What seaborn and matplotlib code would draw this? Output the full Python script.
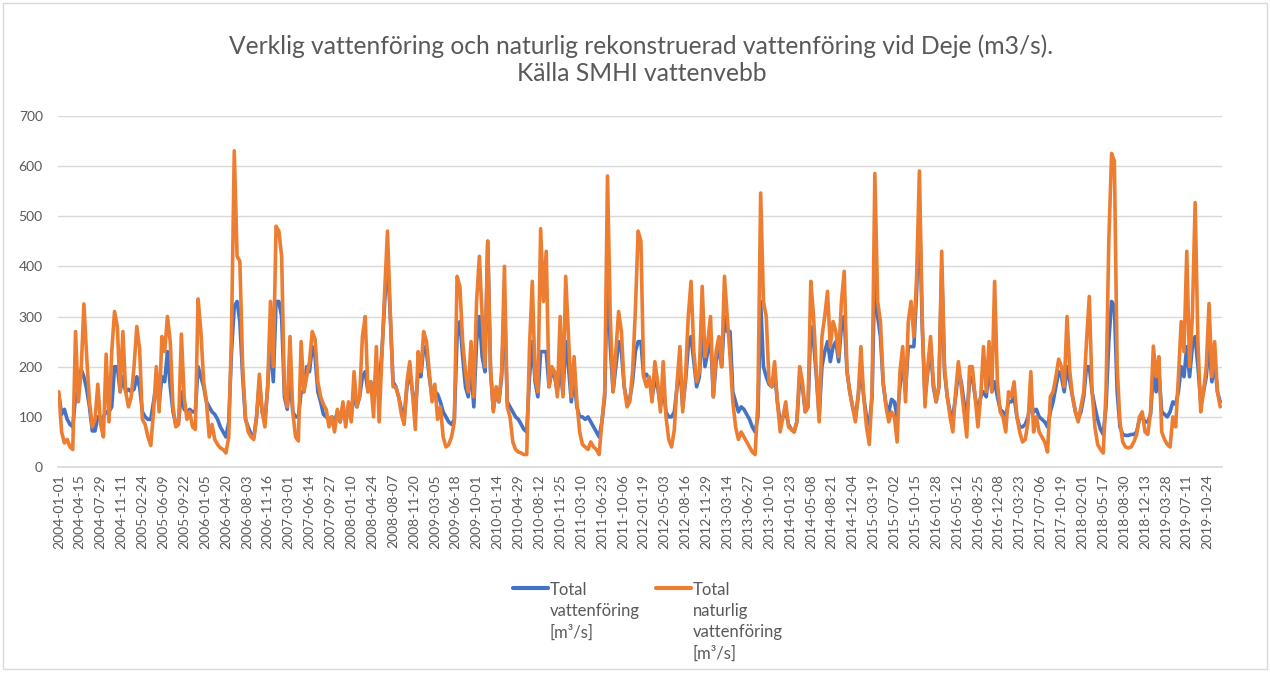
import pandas as pd
import seaborn as sns
import matplotlib.pyplot as plt
from matplotlib.patches import Rectangle

# one value every 14 days starting 2004-01-01
start_date = '2004-01-01'

verklig = [145, 105, 115, 95, 85, 80, 140, 150, 195, 180, 155, 120, 72, 72, 100, 95, 100, 110, 110, 120,
           200, 200, 150, 180, 150, 155, 150, 155, 180, 160, 110, 100, 95, 95, 130, 165, 125, 180,
           170, 230, 160, 110, 85, 90, 150, 115, 110, 115, 110, 110, 200, 180, 160, 130, 120, 110, 105, 95,
           80, 70, 60, 90, 230, 320, 330, 290, 180, 95, 80, 65, 60, 100, 170, 110, 90, 160, 260, 170, 330,
           330, 300, 140, 115, 180, 110, 100, 100, 150, 150, 200, 190, 240, 220, 150, 130, 105, 100, 95, 100,
           90, 110, 90, 120, 90, 120, 100, 150, 120, 140, 180, 190, 150, 170, 130, 200, 160, 230, 330, 420, 300, 170,
           160, 140, 115, 100, 160, 190, 150, 110, 190, 180, 240, 230, 180, 140, 150, 145, 130, 110, 100, 90,
           85, 95, 260, 290, 220, 160, 140, 200, 120, 250, 300, 220, 190, 450, 190, 115, 150, 130, 180, 330, 130,
           120, 110, 100, 95, 85, 75, 70, 180, 250, 170, 140, 230, 230, 230, 160, 190, 180, 150, 200, 145,
           250, 200, 130, 180, 120, 100, 100, 95, 100, 90, 80, 70, 60, 90, 140, 400, 240, 150, 200, 250, 230, 160,
           130, 135, 170, 230, 250, 250, 180, 185, 175, 140, 170, 160, 120, 160, 110, 100, 100, 110, 160, 200,
           120, 170, 240, 260, 210, 160, 180, 280, 200, 230, 260, 140, 210, 240, 200, 300, 270, 270, 150, 130, 110,
           120, 115, 105, 95, 80, 70, 100, 330, 200, 180, 165, 160, 190, 130, 90, 100, 110, 85, 75, 70,
           90, 180, 160, 110, 120, 280, 250, 180, 100, 200, 230, 250, 210, 240, 250, 210, 280, 300, 190, 150, 120, 100,
           140, 200, 140, 100, 85, 140, 400, 300, 260, 165, 125, 110, 135, 130, 100, 160, 210, 150, 240, 240,
           240, 350, 520, 280, 140, 190, 240, 160, 130, 160, 400, 190, 140, 110, 100, 140, 190, 170, 130, 100, 170,
           180, 140, 110, 140, 150, 140, 200, 150, 170, 140, 115, 110, 100, 130, 130, 140, 100, 80, 80, 85,
           100, 130, 110, 115, 100, 95, 90, 80, 110, 130, 160, 190, 180, 150, 200, 170, 140, 110, 95, 110, 140, 200,
           200, 150, 120, 95, 75, 65, 120, 250, 330, 320, 150, 80, 65, 63, 63, 65, 65, 70, 95, 100,
           90, 90, 105, 190, 150, 190, 110, 105, 100, 110, 130, 125, 150, 200, 180, 240, 180, 240, 260, 200,
           130, 150, 180, 250, 170, 210, 150, 130]

naturlig = [150, 70, 48, 55, 40, 35, 270, 130, 190, 325, 220, 130, 80, 95, 165, 85, 60, 225, 90, 230,
            310, 280, 150, 270, 150, 120, 140, 200, 280, 235, 95, 85, 60, 43, 110, 200, 110, 260,
            230, 300, 250, 120, 80, 85, 265, 140, 95, 110, 80, 75, 335, 270, 170, 130, 60, 85, 55, 45,
            38, 35, 28, 60, 270, 630, 420, 410, 200, 100, 70, 60, 55, 100, 185, 110, 80, 165, 330, 200, 480,
            470, 420, 150, 120, 260, 110, 60, 52, 250, 150, 180, 210, 270, 255, 170, 140, 125, 115, 80, 100,
            70, 115, 90, 130, 80, 130, 90, 190, 120, 140, 260, 300, 150, 170, 100, 240, 90, 220, 350, 470, 310, 160,
            160, 140, 105, 85, 170, 210, 145, 75, 230, 190, 270, 250, 190, 130, 165, 95, 120, 60, 40, 45,
            60, 90, 380, 360, 250, 190, 150, 250, 140, 330, 420, 300, 200, 450, 200, 110, 160, 130, 190, 400, 120,
            100, 50, 35, 30, 28, 25, 25, 240, 370, 180, 150, 475, 330, 430, 160, 200, 190, 140, 300, 140,
            380, 260, 140, 220, 130, 70, 45, 40, 35, 50, 40, 35, 25, 90, 150, 580, 300, 150, 230, 310, 270, 160,
            120, 130, 190, 310, 470, 450, 180, 160, 180, 130, 210, 170, 110, 210, 100, 55, 40, 75, 170, 240,
            110, 180, 300, 370, 230, 170, 190, 360, 220, 250, 300, 140, 230, 260, 200, 380, 300, 220, 130, 80, 55,
            70, 60, 50, 40, 30, 25, 130, 546, 330, 300, 170, 160, 210, 130, 70, 100, 130, 80, 75, 70,
            90, 200, 170, 110, 120, 370, 300, 190, 90, 260, 300, 350, 240, 290, 270, 220, 330, 390, 190, 150, 120, 90,
            140, 240, 140, 80, 45, 150, 585, 330, 290, 170, 120, 90, 110, 100, 50, 190, 240, 130, 290, 330,
            260, 380, 590, 300, 120, 200, 260, 170, 130, 160, 430, 200, 140, 100, 70, 150, 210, 160, 110, 60, 200,
            200, 140, 80, 140, 240, 150, 250, 150, 370, 170, 110, 100, 70, 150, 140, 170, 100, 70, 50, 55,
            90, 190, 70, 100, 70, 60, 50, 30, 140, 150, 180, 215, 200, 160, 300, 190, 140, 110, 90, 120, 150, 250,
            340, 150, 80, 45, 35, 28, 150, 450, 625, 610, 200, 90, 50, 40, 38, 40, 50, 65, 100, 110,
            70, 65, 110, 241, 180, 220, 70, 55, 45, 40, 100, 80, 180, 290, 230, 430, 200, 300, 527, 250,
            110, 150, 200, 326, 180, 250, 150, 120]

serie_namn = ['Total\nvattenföring\n[m³/s]', 'Total\nnaturlig\nvattenföring\n[m³/s]']
farger = ['#4472C4', '#ED7D31']

tick_labels = ['2004-01-01', '2004-04-15', '2004-07-29', '2004-11-11', '2005-02-24', '2005-06-09',
               '2005-09-22', '2006-01-05', '2006-04-20', '2006-08-03', '2006-11-16', '2007-03-01',
               '2007-06-14', '2007-09-27', '2008-01-10', '2008-04-24', '2008-08-07', '2008-11-20',
               '2009-03-05', '2009-06-18', '2009-10-01', '2010-01-14', '2010-04-29', '2010-08-12',
               '2010-11-25', '2011-03-10', '2011-06-23', '2011-10-06', '2012-01-19', '2012-05-03',
               '2012-08-16', '2012-11-29', '2013-03-14', '2013-06-27', '2013-10-10', '2014-01-23',
               '2014-05-08', '2014-08-21', '2014-12-04', '2015-03-19', '2015-07-02', '2015-10-15',
               '2016-01-28', '2016-05-12', '2016-08-25', '2016-12-08', '2017-03-23', '2017-07-06',
               '2017-10-19', '2018-02-01', '2018-05-17', '2018-08-30', '2018-12-13', '2019-03-28',
               '2019-07-11', '2019-10-24']

datum = pd.date_range(start_date, periods=len(naturlig), freq='14D')
df = pd.DataFrame({
    'datum': list(datum) * 2,
    'flode': verklig + naturlig,
    'serie': [serie_namn[0]] * len(datum) + [serie_namn[1]] * len(datum),
})

sns.set_theme(style='white')
plt.rcParams['font.family'] = ['Lato', 'DejaVu Sans']

fig = plt.figure(figsize=(12.7, 6.73), dpi=100)
ax = fig.add_axes([0.0457, 0.306, 0.9165, 0.522])

sns.lineplot(data=df, x='datum', y='flode', hue='serie', hue_order=serie_namn,
             palette=farger, linewidth=2.6, ax=ax, legend=True)

ax.set_xlim(pd.Timestamp('2003-12-28'), pd.Timestamp('2020-01-04'))
ax.set_ylim(0, 700)
ax.set_yticks(range(0, 701, 100))
ax.set_xticks(pd.to_datetime(tick_labels))
ax.set_xticklabels(tick_labels, rotation=90)
ax.set_xlabel('')
ax.set_ylabel('')
ax.grid(axis='y', color='#d9d9d9', linewidth=1)
ax.grid(axis='x', visible=False)
for side in ['top', 'right', 'left']:
    ax.spines[side].set_visible(False)
ax.spines['bottom'].set_color('#d9d9d9')
ax.tick_params(axis='y', length=0, pad=11, labelsize=10, labelcolor='#595959')
ax.tick_params(axis='x', length=0, pad=5, labelsize=10, labelcolor='#595959')

handles, _ = ax.get_legend_handles_labels()
ax.get_legend().remove()
leg = fig.legend(handles, serie_namn, loc='upper center', bbox_to_anchor=(0.51, 1 - 567 / 673),
                 ncol=2, frameon=False, fontsize=12, handlelength=2.1, handletextpad=0.1,
                 columnspacing=1.0, labelcolor='#595959')
for h in leg.legend_handles:
    h.set_linewidth(3)
for t in leg.get_texts():
    t.set_linespacing(1.4)
leg._legend_handle_box.align = 'top'
for col in leg._legend_handle_box.get_children():
    col.align = 'left'
    for item in col.get_children():
        item.align = 'top'

fig.text(0.505, 1 - 60 / 673, 'Verklig vattenföring och naturlig rekonstruerad vattenföring vid Deje (m3/s).\nKälla SMHI vattenvebb',
         ha='center', va='center', fontsize=17.7, color='#595959', linespacing=1.22)

fig.patches.append(Rectangle((0.002, 0.006), 0.996, 0.99, transform=fig.transFigure,
                             fill=False, edgecolor='#d9d9d9', linewidth=1))

fig.savefig('out.png', dpi=100)
